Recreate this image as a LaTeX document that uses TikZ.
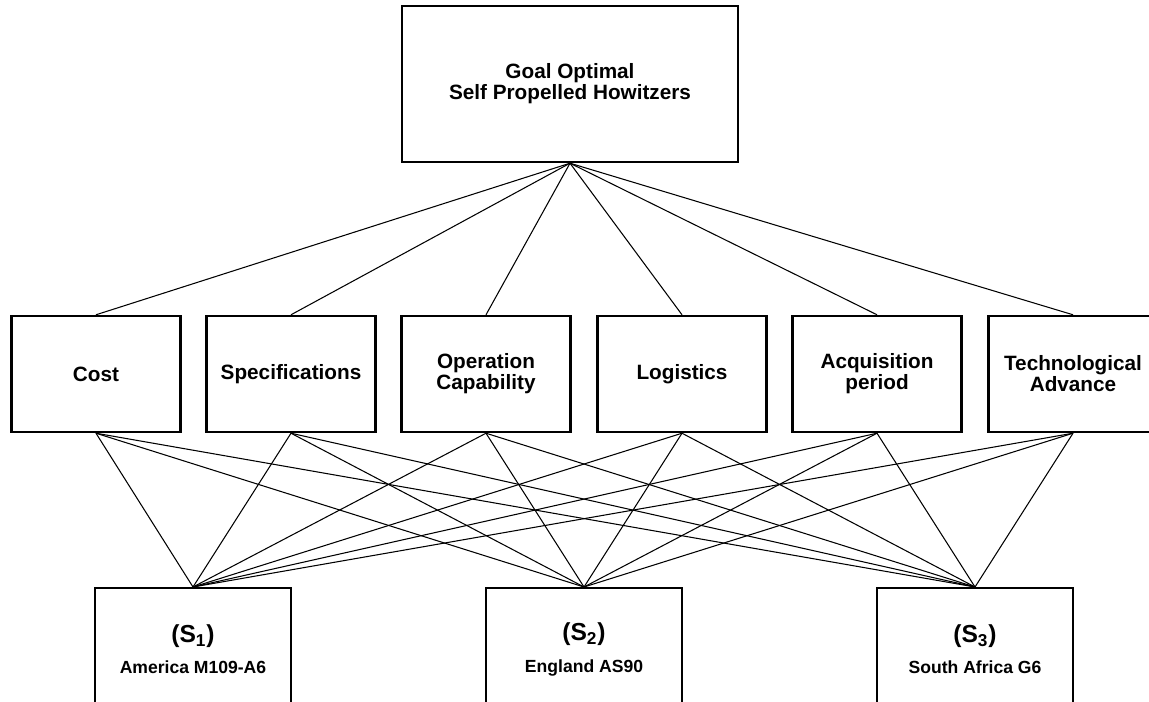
\documentclass[tikz,border=0pt]{standalone}
\usepackage{fontspec}
\setmainfont{Liberation Sans}
\begin{document}
\begin{tikzpicture}[x=0.02cm,y=-0.02cm,
  box/.style={draw,line width=1.4pt,rectangle,align=center,inner sep=0pt,
    font=\bfseries\fontsize{11.8}{12}\selectfont},
  crit/.style={box,minimum width=3.38cm,minimum height=2.32cm},
  alt/.style={box,anchor=north,minimum width=3.92cm,minimum height=2.44cm},
  link/.style={line width=0.6pt}]
\useasboundingbox (0,0) rectangle (1149,702);
\clip (0,0) rectangle (1149,702);

 \node[box,minimum width=6.72cm,minimum height=3.12cm] (g) at (570,84) {Goal Optimal\\Self Propelled Howitzers};

 \node[crit] (c1) at (96,374) {Cost};
 \node[crit] (c2) at (291,374) {Specifications};
 \node[crit] (c3) at (486,374) {Operation\\Capability};
 \node[crit] (c4) at (682,374) {Logistics};
 \node[crit] (c5) at (877,374) {Acquisition\\period};
 \node[crit] (c6) at (1073,374) {Technological\\Advance};

 \node[alt] (s1) at (193,587) {{\fontsize{14}{15}\selectfont(S\textsubscript{1})}\\[6pt]{\fontsize{10}{12}\selectfont America M109-A6}};
 \node[alt] (s2) at (584,587) {{\fontsize{14}{15}\selectfont(S\textsubscript{2})}\\[6pt]{\fontsize{10}{12}\selectfont England AS90}};
 \node[alt] (s3) at (975,587) {{\fontsize{14}{15}\selectfont(S\textsubscript{3})}\\[6pt]{\fontsize{10}{12}\selectfont South Africa G6}};

 \path [link] (g.south) edge (c1.north);
 \path [link] (g.south) edge (c2.north);
 \path [link] (g.south) edge (c3.north);
 \path [link] (g.south) edge (c4.north);
 \path [link] (g.south) edge (c5.north);
 \path [link] (g.south) edge (c6.north);

 \path [link] (c1.south) edge (s1.north);
 \path [link] (c1.south) edge (s2.north);
 \path [link] (c1.south) edge (s3.north);
 \path [link] (c2.south) edge (s1.north);
 \path [link] (c2.south) edge (s2.north);
 \path [link] (c2.south) edge (s3.north);
 \path [link] (c3.south) edge (s1.north);
 \path [link] (c3.south) edge (s2.north);
 \path [link] (c3.south) edge (s3.north);
 \path [link] (c4.south) edge (s1.north);
 \path [link] (c4.south) edge (s2.north);
 \path [link] (c4.south) edge (s3.north);
 \path [link] (c5.south) edge (s1.north);
 \path [link] (c5.south) edge (s2.north);
 \path [link] (c5.south) edge (s3.north);
 \path [link] (c6.south) edge (s1.north);
 \path [link] (c6.south) edge (s2.north);
 \path [link] (c6.south) edge (s3.north);
\end{tikzpicture}
\end{document}
